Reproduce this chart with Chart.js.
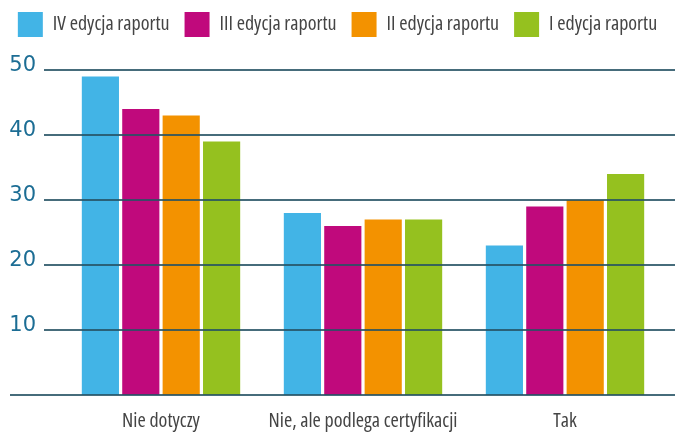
<!DOCTYPE html>
<html>
<head>
<meta charset="utf-8">
<script src="https://cdn.jsdelivr.net/npm/chart.js@4"></script>
<style>
  html, body { margin: 0; padding: 0; background: #fff; }
  #wrap { width: 675px; height: 432px; }
</style>
</head>
<body>
<div id="wrap"><canvas id="chart"></canvas></div>
<script>
const categories = ['Nie dotyczy', 'Nie, ale podlega certyfikacji', 'Tak'];
const seriesNames = ['IV edycja raportu', 'III edycja raportu', 'II edycja raportu', 'I edycja raportu'];
const edition4 = [49, 28, 23];
const edition3 = [44, 26, 29];
const edition2 = [43, 27, 30];
const edition1 = [39, 27, 34];
const seriesColors = ['#42b4e6', '#c0097c', '#f39200', '#95c11f'];

// Open Sans is variable, "condensed" in the weight slot gets the narrow cut
const narrowFont = { family: '"Open Sans", sans-serif', size: 20, weight: 'normal condensed' };

// gridlines in the reference run past the plot area and sit on top of the bars
const gridOverlay = {
    id: 'gridOverlay',
    afterDatasetsDraw(chart) {
        const y = chart.scales.y;
        const c = chart.ctx;
        c.save();
        c.strokeStyle = 'rgba(38, 82, 100, 0.85)';
        c.lineWidth = 2;
        y.ticks.forEach(t => {
            const py = Math.round(y.getPixelForValue(t.value));
            c.beginPath();
            c.moveTo(t.value === 0 ? 10 : 44, py);
            c.lineTo(chart.width, py);
            c.stroke();
        });
        c.restore();
    }
};

const data = [edition4, edition3, edition2, edition1].map((vals, i) => ({
    label: seriesNames[i],
    data: vals,
    backgroundColor: seriesColors[i],
    borderWidth: 0,
    categoryPercentage: 0.8,
    barPercentage: 0.92
}));

const blank = {
    grid: { display: false, drawTicks: false },
    border: { display: false },
    ticks: { display: false }
};

new Chart(document.getElementById('chart'), {
    type: 'bar',
    data: { labels: categories, datasets: data },
    plugins: [gridOverlay],
    options: {
        responsive: true,
        maintainAspectRatio: false,
        animation: false,
        layout: { padding: { left: 0, right: 0, top: -3, bottom: 0 } },
        plugins: {
            legend: {
                position: 'top',
                labels: {
                    boxWidth: 25,
                    boxHeight: 25,
                    padding: 15,
                    color: '#444444',
                    font: narrowFont
                }
            },
            tooltip: { enabled: false }
        },
        scales: {
            x: {
                afterFit(scale) { scale.height = 37; },
                grid: { display: false, drawTicks: false },
                border: { display: false },
                ticks: {
                    color: '#444444',
                    padding: 14,
                    maxRotation: 0,
                    autoSkip: false,
                    font: narrowFont
                }
            },
            // empty band under the legend
            gap: Object.assign({
                type: 'category',
                position: 'top',
                afterFit(scale) { scale.height = 23; }
            }, blank),
            y: {
                min: 0,
                max: 50,
                afterFit(scale) { scale.width = 60; },
                grid: { display: false, drawTicks: false },
                border: { display: false },
                ticks: {
                    stepSize: 10,
                    crossAlign: 'near',
                    padding: 24,
                    labelOffset: -4,
                    color: '#1c6d94',
                    font: { family: '"DejaVu Sans", sans-serif', size: 21 },
                    callback: v => v === 0 ? '' : v
                }
            },
            // right margin
            yRight: Object.assign({
                type: 'linear',
                position: 'right',
                afterFit(scale) { scale.width = 9; }
            }, blank)
        }
    }
});
</script>
</body>
</html>
